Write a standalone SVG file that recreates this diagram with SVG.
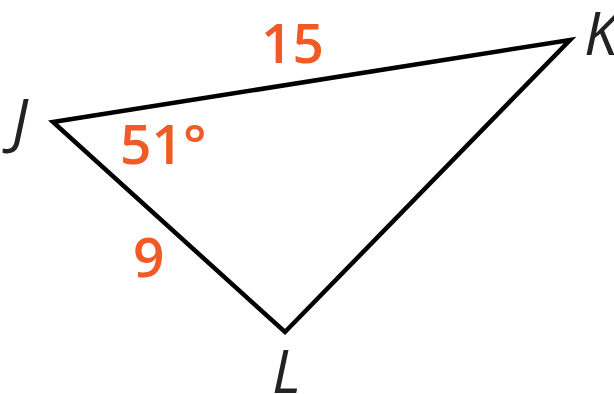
<svg xmlns="http://www.w3.org/2000/svg" width="614" height="394" viewBox="0 0 614 394">
<style>
.edge{fill:none;stroke:#000;stroke-width:4.5;stroke-linejoin:miter}
.v{font-family:"Open Sans","Noto Sans",sans-serif;font-style:italic;font-size:60px;fill:#222}
.m{font-family:"Open Sans","Noto Sans",sans-serif;font-weight:600;font-size:55px;fill:#F15A24}
</style>
<rect width="614" height="394" fill="#fff"/>
<g id="connectors">
<polygon class="edge" points="53,122 570,40 285,332"/>
</g>
<g id="J"><text class="v" x="12" y="142">J</text></g>
<g id="K"><text class="v" x="584" y="55">K</text></g>
<g id="L"><text class="v" x="272" y="393">L</text></g>
<g id="side15"><text class="m" x="261" y="63">15</text></g>
<g id="angle51"><text class="m" x="120" y="164">51°</text></g>
<g id="side9"><text class="m" x="133" y="277">9</text></g>
</svg>
